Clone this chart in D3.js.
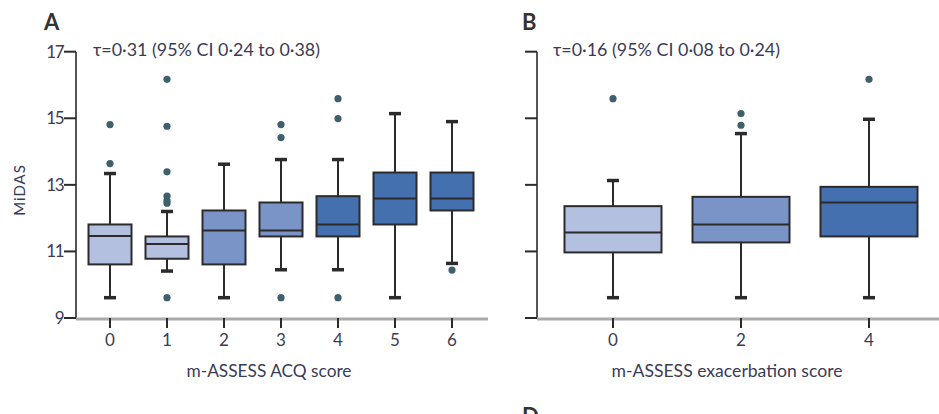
<!DOCTYPE html>
<html><head><meta charset="utf-8">
<script src="https://cdn.jsdelivr.net/npm/d3@7"></script>
<style>body{margin:0;background:#fff}text{font-family:Lato,"Open Sans",sans-serif}</style>
</head><body><svg id="c" width="939" height="414"></svg>
<script>
// Panel A data
const catsA = [0,1,2,3,4,5,6];
const whiskLoA = [9.61,10.41,9.61,10.45,10.45,9.61,10.64];
const q1A      = [10.61,10.78,10.61,11.45,11.45,11.81,12.23];
const medA     = [11.46,11.22,11.63,11.63,11.81,12.59,12.59];
const q3A      = [11.81,11.45,12.23,12.47,12.66,13.37,13.37];
const whiskHiA = [13.34,12.20,13.62,13.76,13.76,15.14,14.90];
const outA     = [[14.81,13.64],[16.17,14.76,13.39,12.66,12.53,12.45,9.61],[],[14.81,14.42,9.61],[15.59,14.99,9.61],[],[10.44]];
const colorA   = ["#b4c0e0","#b4c0e0","#7b94c7","#7b94c7","#4470b0","#4470b0","#4470b0"];
// Panel B data
const catsB = [0,2,4];
const whiskLoB = [9.61,9.61,9.61];
const q1B      = [10.97,11.27,11.45];
const medB     = [11.57,11.81,12.47];
const q3B      = [12.36,12.64,12.94];
const whiskHiB = [13.13,14.54,14.97];
const outB     = [[15.59],[15.14,14.79],[16.17]];
const colorB   = ["#b4c0e0","#7b94c7","#4470b0"];
const yTicks = [9,11,13,15,17];

const svg = d3.select("#c");
const ink = "#2b2b2b", txt = "#3b3b55", dot = "#3e5f6b";

function panel(o){
  const g = svg.append("g");
  const y = d3.scaleLinear().domain([9,17]).range([318,51.7]);
  const x = d3.scalePoint().domain(o.cats).range(o.xr);
  g.append("line").attr("x1",o.ax).attr("x2",o.ax).attr("y1",y(17)).attr("y2",y(9)).attr("stroke","#555").attr("stroke-width",2);
  g.selectAll(".yt").data(yTicks).join("line").attr("x1",o.ax-12).attr("x2",o.ax).attr("y1",d=>y(d)).attr("y2",d=>y(d)).attr("stroke",ink).attr("stroke-width",2);
  if(o.labels){
    g.selectAll(".yl").data(yTicks).join("text").attr("x",o.ax-13).attr("y",d=>y(d)+6).attr("text-anchor","end").attr("font-size",17).attr("fill",txt).attr("letter-spacing",-1.5).text(d=>d);
  }
  g.append("line").attr("x1",o.ax).attr("x2",o.xend).attr("y1",y(9)+1).attr("y2",y(9)+1).attr("stroke","#aaa").attr("stroke-width",3);
  g.selectAll(".xt").data(o.cats).join("line").attr("x1",d=>x(d)).attr("x2",d=>x(d)).attr("y1",y(9)).attr("y2",y(9)+10).attr("stroke",ink).attr("stroke-width",2);
  g.selectAll(".xl").data(o.cats).join("text").attr("x",d=>x(d)).attr("y",346).attr("text-anchor","middle").attr("font-size",17).attr("fill",txt).text(d=>d);
  const bw = o.bw;
  o.cats.forEach((c,i)=>{
    const cx = x(c);
    g.append("line").attr("x1",cx).attr("x2",cx).attr("y1",y(o.hi[i])).attr("y2",y(o.q3[i])).attr("stroke",ink).attr("stroke-width",2);
    g.append("line").attr("x1",cx).attr("x2",cx).attr("y1",y(o.q1[i])).attr("y2",y(o.lo[i])).attr("stroke",ink).attr("stroke-width",2);
    g.append("line").attr("x1",cx-6).attr("x2",cx+6).attr("y1",y(o.hi[i])).attr("y2",y(o.hi[i])).attr("stroke",ink).attr("stroke-width",3.5);
    g.append("line").attr("x1",cx-6).attr("x2",cx+6).attr("y1",y(o.lo[i])).attr("y2",y(o.lo[i])).attr("stroke",ink).attr("stroke-width",3.5);
    g.append("rect").attr("x",cx-bw/2).attr("width",bw).attr("y",y(o.q3[i])).attr("height",y(o.q1[i])-y(o.q3[i])).attr("fill",o.col[i]).attr("stroke",ink).attr("stroke-width",2);
    g.append("line").attr("x1",cx-bw/2).attr("x2",cx+bw/2).attr("y1",y(o.med[i])).attr("y2",y(o.med[i])).attr("stroke",ink).attr("stroke-width",2);
    g.selectAll(null).data(o.out[i]).join("circle").attr("cx",cx).attr("cy",d=>y(d)).attr("r",3.6).attr("fill",dot);
  });
  g.append("text").attr("x",o.lx).attr("y",30).attr("font-size",22).attr("font-weight","bold").attr("fill","#333").text(o.letter);
  g.append("text").attr("x",o.tx).attr("y",56).attr("font-size",17).attr("fill",txt).attr("textLength",227).attr("lengthAdjust","spacingAndGlyphs").text(o.tau);
  g.append("text").attr("x",o.titleX).attr("y",377).attr("text-anchor","middle").attr("font-size",17).attr("fill",txt).attr("textLength",o.titleW).attr("lengthAdjust","spacingAndGlyphs").text(o.title);
}

panel({cats:catsA,xr:[110,452],ax:76,xend:488,bw:43,lo:whiskLoA,q1:q1A,med:medA,q3:q3A,hi:whiskHiA,out:outA,col:colorA,labels:true,
  letter:"A",lx:44,tx:93,tau:"τ=0·31 (95% CI 0·24 to 0·38)",titleX:269,titleW:165,title:"m-ASSESS ACQ score"});
panel({cats:catsB,xr:[613,869],ax:537,xend:939,bw:97,lo:whiskLoB,q1:q1B,med:medB,q3:q3B,hi:whiskHiB,out:outB,col:colorB,labels:false,
  letter:"B",lx:522,tx:553,tau:"τ=0·16 (95% CI 0·08 to 0·24)",titleX:727,titleW:231,title:"m-ASSESS exacerbation score"});

svg.append("text").attr("transform","translate(25,190) rotate(-90)").attr("text-anchor","middle").attr("font-size",15).attr("fill",txt).attr("letter-spacing",1).text("MiDAS");
svg.append("text").attr("x",522).attr("y",424).attr("font-size",22).attr("font-weight","bold").attr("fill","#333").text("D");
</script></body></html>
